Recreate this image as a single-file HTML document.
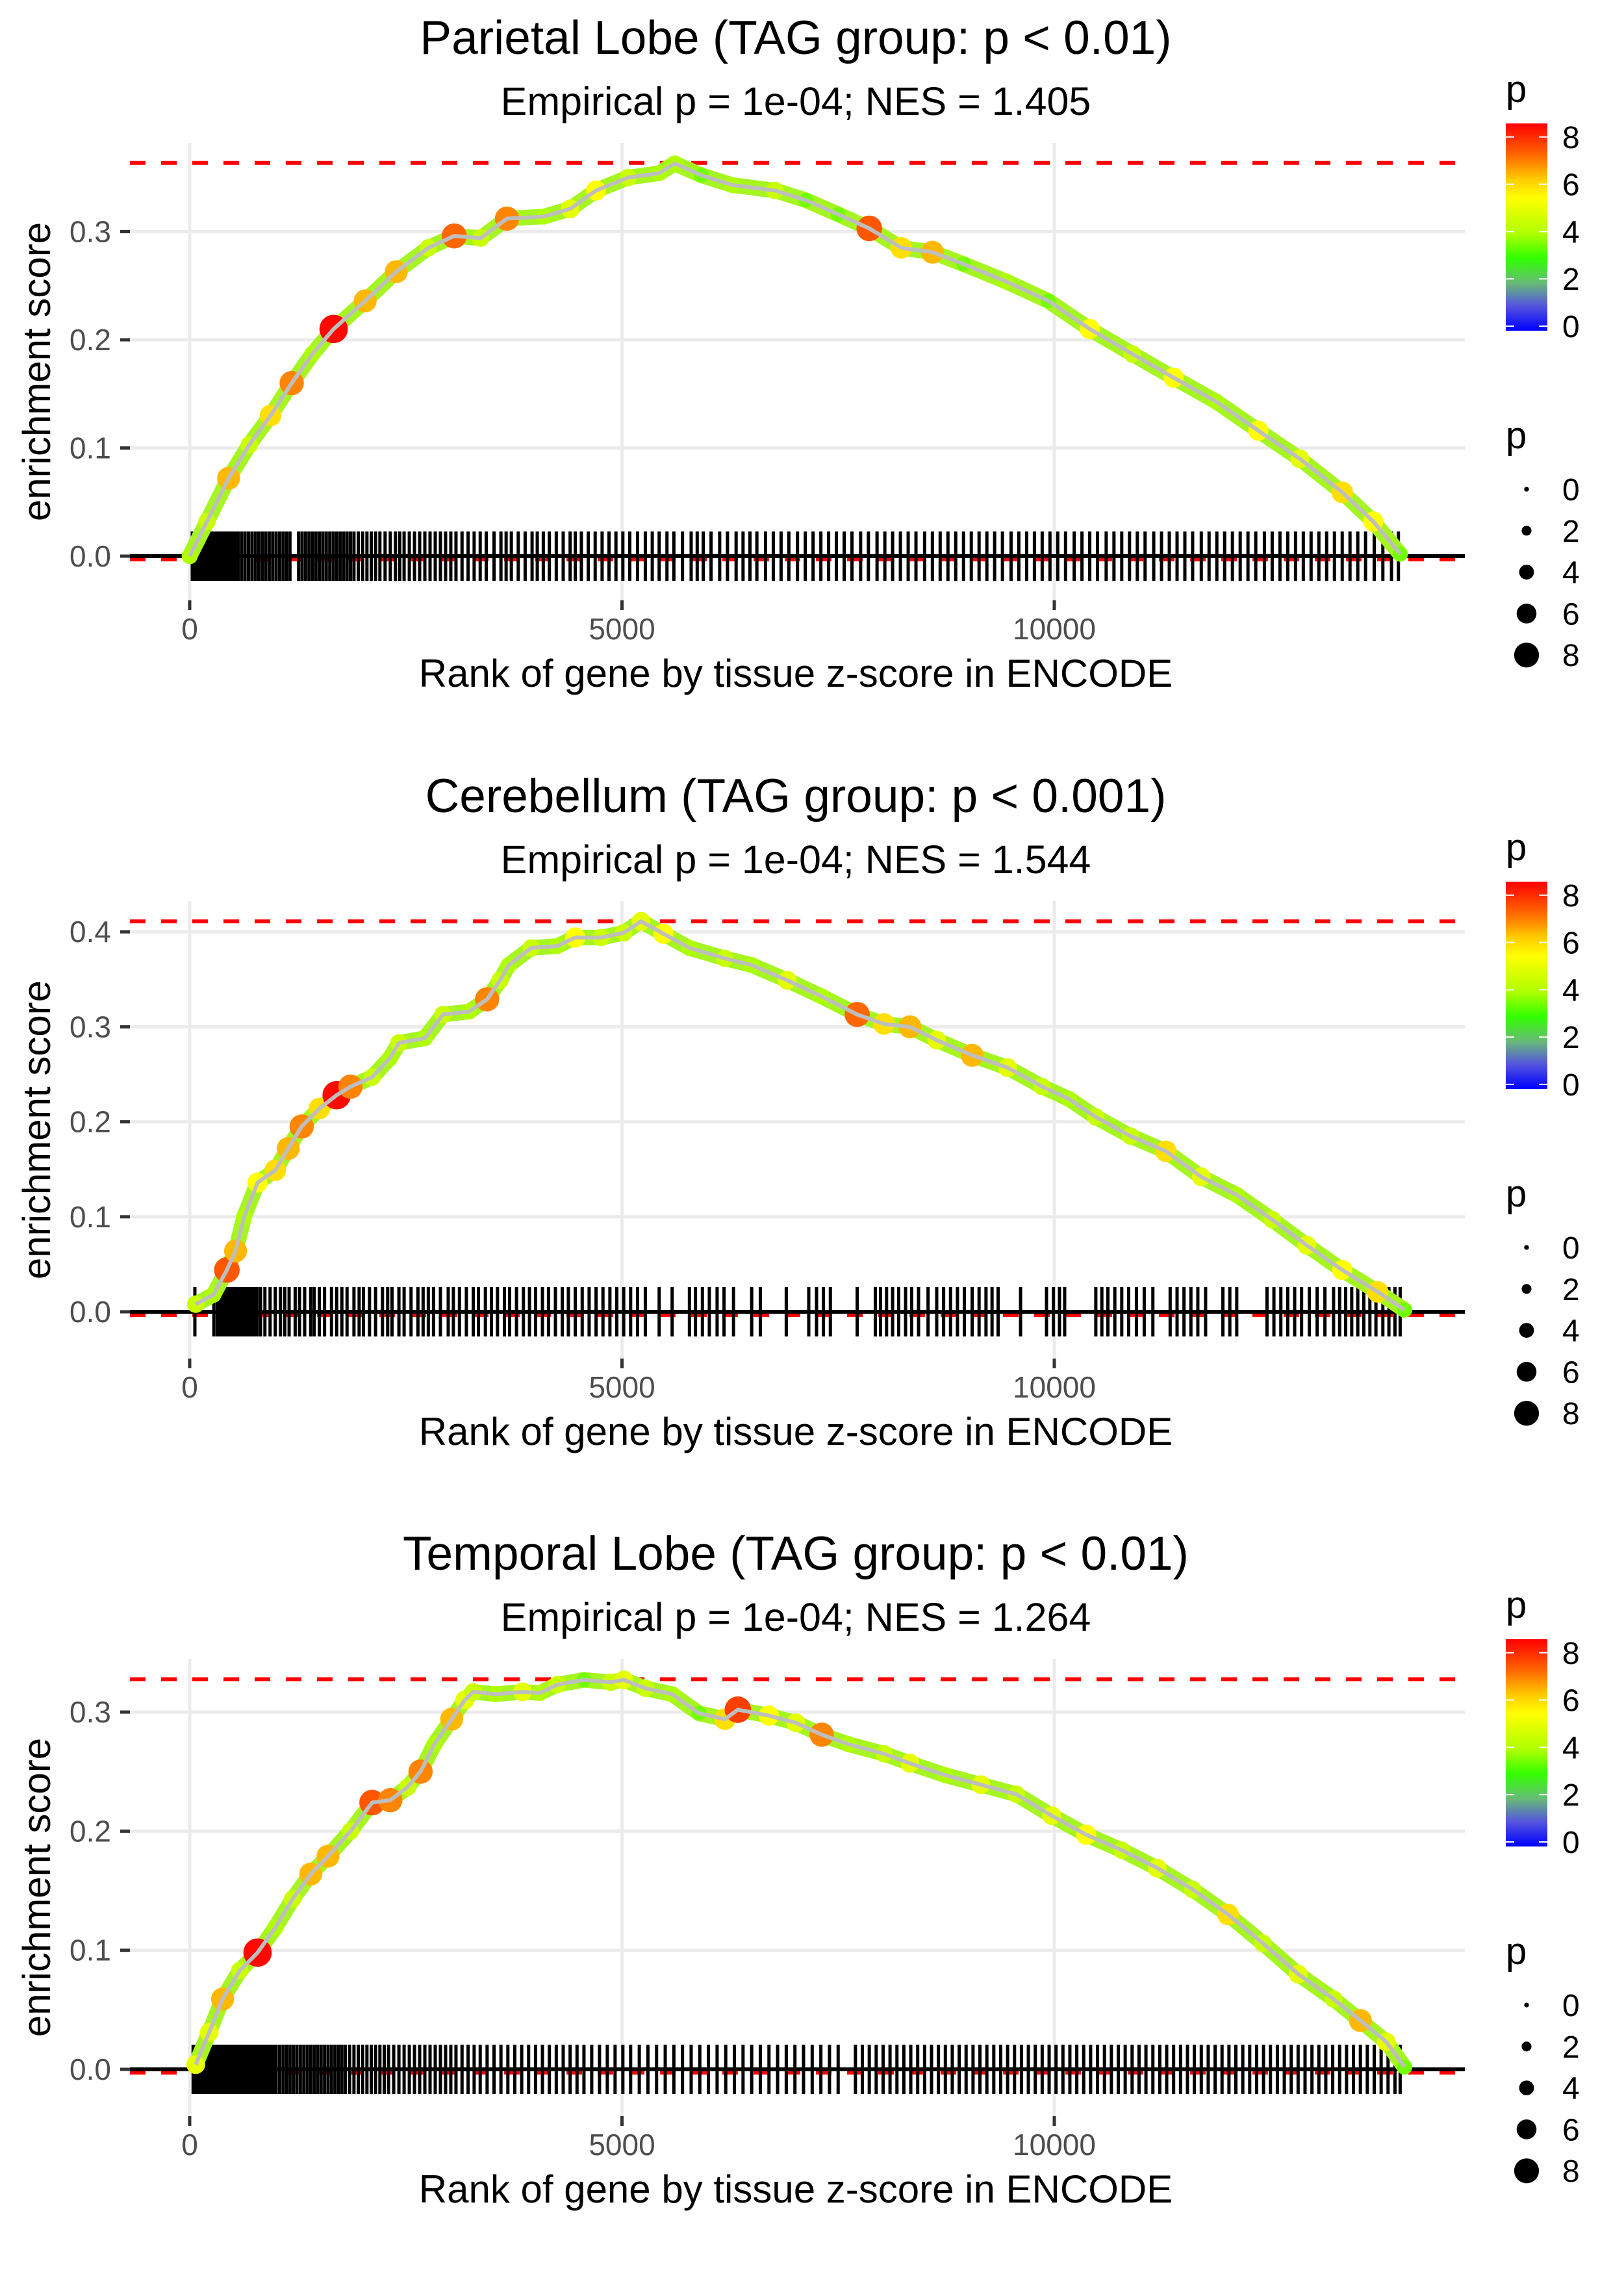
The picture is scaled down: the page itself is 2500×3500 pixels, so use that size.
<!DOCTYPE html>
<html><head><meta charset="utf-8"><style>
html,body{margin:0;padding:0;background:#fff;}
svg{display:block;font-family:"Liberation Sans",sans-serif;}
</style></head><body>
<svg id="chart" width="2500" height="3500" viewBox="0 0 2500 3500" xmlns="http://www.w3.org/2000/svg">
<defs>
<linearGradient id="pgrad" x1="0" y1="1" x2="0" y2="0">
<stop offset="0" stop-color="#0000ff"/><stop offset="0.12" stop-color="#5555dd"/><stop offset="0.23" stop-color="#66bb77"/><stop offset="0.35" stop-color="#33ff00"/><stop offset="0.47" stop-color="#b0ff00"/><stop offset="0.64" stop-color="#ffff00"/><stop offset="0.73" stop-color="#ffcc00"/><stop offset="0.85" stop-color="#ff6600"/><stop offset="1" stop-color="#ff0000"/>
</linearGradient>
</defs>
</svg>
<script>
// ---- data ----
const titles = ["Parietal Lobe (TAG group: p < 0.01)","Cerebellum (TAG group: p < 0.001)","Temporal Lobe (TAG group: p < 0.01)"];
const subtitles = ["Empirical p = 1e-04; NES = 1.405","Empirical p = 1e-04; NES = 1.544","Empirical p = 1e-04; NES = 1.264"];
const maxES = [0.3635, 0.411, 0.3276];
const yTicks1 = [0.0,0.1,0.2,0.3];
const yTicks2 = [0.0,0.1,0.2,0.3,0.4];
const yTicks3 = [0.0,0.1,0.2,0.3];
const xTicks = [0,5000,10000];
const xTickLabels = ["0","5000","10000"];

const rank1 = [0,200,450,690,935,1180,1420,1665,2030,2390,2760,3060,3365,3670,4100,4400,4700,5070,5430,5610,5920,6280,6770,7130,7500,7860,8230,8590,8950,9440,9930,10410,10900,11380,11870,12360,12840,13330,13690,14000];
const es1 =   [0,0.032,0.072,0.103,0.13,0.16,0.187,0.21,0.236,0.263,0.285,0.296,0.294,0.312,0.314,0.321,0.338,0.35,0.354,0.363,0.352,0.343,0.338,0.329,0.316,0.303,0.285,0.281,0.27,0.254,0.236,0.21,0.187,0.165,0.143,0.116,0.09,0.059,0.032,0.002];
const p1 =    [4,4.5,6.5,4.5,6,7,4,8.5,6.5,6.5,4.5,7.3,4.5,7,4,5,5.5,4.5,4,4,3.5,4,4.5,3.5,3.5,7.5,6,6.5,3.5,4,3.5,5.5,4.5,5.5,4,5.5,5,6,5.5,3.5];

const rank2 = [70,275,430,530,630,785,990,1140,1295,1500,1700,1860,2110,2315,2420,2720,2930,3230,3440,3590,3690,3950,4250,4460,4760,5020,5220,5480,5780,6190,6500,6910,7310,7720,8030,8330,8640,9050,9460,9860,10170,10480,10880,11290,11700,12110,12520,12920,13330,13740,14050];
const es2 =   [0.008,0.018,0.044,0.064,0.1,0.136,0.149,0.172,0.195,0.214,0.228,0.237,0.247,0.267,0.283,0.288,0.313,0.316,0.329,0.349,0.365,0.383,0.385,0.394,0.394,0.399,0.411,0.398,0.383,0.372,0.365,0.349,0.332,0.313,0.303,0.3,0.286,0.27,0.257,0.237,0.224,0.205,0.185,0.169,0.142,0.123,0.097,0.07,0.044,0.021,0.002];
const p2 =    [4.5,4,7.5,6.5,4,5.5,6,6.5,7,6,8.5,7,4.5,4,4.5,4,4.5,4,7,4.5,4,4.5,4,5.5,4.5,4.5,5,5.5,4,4.5,4,5,4,7.3,6,6.5,5,6.5,5,4.5,4,4.5,4.5,6,5,4,4.5,5,5.5,6,3.5];

const rank3 = [70,225,380,580,785,990,1190,1400,1600,1860,2110,2320,2520,2670,2830,3030,3180,3280,3540,3850,4050,4250,4560,4870,5020,5270,5580,5890,6190,6340,6700,7010,7310,7620,8030,8330,8740,9150,9560,9970,10370,10780,11190,11600,12010,12410,12820,13230,13540,13840,14050];
const es3 =   [0.004,0.031,0.059,0.083,0.098,0.119,0.143,0.164,0.179,0.2,0.224,0.226,0.237,0.25,0.273,0.294,0.31,0.317,0.315,0.317,0.316,0.323,0.327,0.325,0.327,0.32,0.315,0.299,0.294,0.302,0.297,0.291,0.281,0.273,0.265,0.257,0.247,0.239,0.231,0.213,0.197,0.184,0.169,0.151,0.13,0.106,0.08,0.059,0.041,0.023,0.002];
const p3 =    [5,5,6.5,4.5,8.5,4,4.5,6.5,6.5,4.5,7.5,7,4.5,7,4,6.5,5,4.5,4,5,4,4.5,3.5,4.5,5,4.5,4,3.5,6,7.8,5.5,5,7,4,4.5,5,4,5,4.5,5,5.5,4.5,5,4.5,6,4.5,5,4.5,6.5,5,3.5];

const rug1 = [30,60,90,110,140,170,200,230,260,290,320,350,380,410,440,470,500,530,560,600,640,680,720,760,800,840,880,920,960,1000,1040,1080,1120,1160,1260,1300,1340,1380,1420,1460,1500,1540,1580,1620,1660,1700,1740,1780,1820,1860,1900,1950,2000,2050,2100,2150,2200,2260,2320,2380,2430,2480,2540,2600,2660,2720,2780,2840,2900,2960,3020,3080,3150,3220,3290,3360,3430,3520,3600,3660,3720,3800,3880,3960,4020,4090,4160,4240,4320,4400,4460,4530,4610,4690,4770,4850,4930,5010,5090,5180,5270,5350,5430,5520,5600,5700,5800,5870,5940,6030,6130,6220,6320,6400,6480,6560,6660,6750,6840,6930,7030,7120,7210,7300,7390,7480,7570,7660,7760,7850,7950,8040,8130,8220,8310,8400,8500,8590,8680,8770,8860,8950,9040,9130,9220,9310,9400,9500,9590,9680,9770,9860,9950,10040,10130,10230,10320,10410,10500,10600,10690,10780,10870,10960,11050,11150,11240,11330,11420,11510,11600,11700,11790,11880,11970,12060,12150,12240,12330,12430,12520,12610,12700,12790,12880,12970,13060,13150,13240,13330,13420,13510,13600,13700,13800,13900,13980];
const rug2 = [60,280,320,350,380,400,430,460,480,510,540,570,600,630,660,690,720,750,780,820,870,930,990,1050,1100,1150,1220,1270,1330,1400,1440,1500,1560,1640,1700,1760,1820,1900,1960,2010,2080,2150,2230,2290,2340,2420,2480,2560,2640,2700,2760,2820,2900,2990,3050,3120,3200,3280,3340,3420,3490,3560,3640,3700,3780,3860,3930,4000,4080,4150,4230,4310,4380,4460,4540,4620,4700,4780,4860,4940,5020,5100,5180,5270,5430,5580,5780,5850,5930,6010,6100,6180,6290,6500,6600,6900,7160,7250,7330,7410,7720,7930,7990,8060,8130,8200,8280,8350,8430,8540,8640,8720,8800,8880,8960,9050,9130,9210,9280,9350,9610,9910,9990,10060,10120,10480,10550,10620,10700,10780,10860,10950,11040,11140,11340,11420,11500,11580,11660,11750,11950,12030,12110,12460,12540,12620,12700,12780,12860,12950,13040,13130,13230,13300,13370,13440,13510,13580,13650,13720,13800,13870,13940,14000];
const rug3 = [40,70,100,130,160,190,220,250,280,310,340,370,400,430,460,490,520,550,580,610,640,670,700,730,760,790,820,850,880,910,940,970,1000,1040,1080,1120,1160,1200,1240,1280,1320,1360,1400,1440,1480,1520,1560,1600,1640,1680,1720,1760,1800,1850,1900,1950,2000,2050,2100,2150,2200,2250,2300,2360,2420,2480,2540,2600,2660,2720,2780,2840,2900,2960,3020,3080,3150,3220,3290,3360,3440,3520,3600,3680,3760,3840,3920,4000,4080,4160,4240,4320,4400,4480,4560,4650,4740,4830,4920,5010,5100,5200,5300,5400,5500,5600,5700,5800,5900,6000,6100,6200,6300,6400,6500,6600,6700,6800,6900,7000,7100,7200,7300,7400,7500,7700,7780,7860,7940,8020,8100,8180,8260,8340,8420,8500,8580,8660,8740,8820,8900,8980,9060,9140,9220,9300,9380,9460,9540,9620,9700,9780,9860,9940,10020,10100,10180,10260,10340,10420,10500,10580,10660,10740,10820,10900,10980,11060,11140,11220,11300,11380,11460,11540,11620,11700,11780,11860,11940,12020,12100,12180,12260,12340,12420,12500,12580,12660,12740,12820,12900,12980,13060,13140,13220,13300,13380,13460,13540,13620,13700,13780,13860,13940,14000];

const legendColorTicks = [0,2,4,6,8];
const legendSizeVals = [0,2,4,6,8];

// ---- layout ----
const panelOffsets = [0, 1167, 2333];
const zeroY = [856, 852, 852];
const perTenth = [166.5, 146.2, 183.3];
const rugHalfPx = 38;
const PX0 = 200, PX1 = 2255, PT = 220, PB = 924;
const NS = "http://www.w3.org/2000/svg";
const svg = document.getElementById('chart');

function xs(r){ return 292 + r * 665.5 / 5000; }
function mk(tag, attrs, parent){ const e=document.createElementNS(NS,tag); for(const k in attrs) e.setAttribute(k, attrs[k]); (parent||svg).appendChild(e); return e; }
const stops=[[0,[0,0,255]],[1,[85,85,221]],[2,[102,187,119]],[3,[51,255,0]],[4,[176,255,0]],[5.5,[255,255,0]],[6.3,[255,204,0]],[7.3,[255,102,0]],[8.6,[255,0,0]]];
function pcol(p){ for(let i=1;i<stops.length;i++){ if(p<=stops[i][0]){ const a=stops[i-1],b=stops[i],t=(p-a[0])/(b[0]-a[0]); const c=a[1].map((v,j)=>Math.round(v+(b[1][j]-v)*t)); return `rgb(${c})`; } } return 'rgb(255,0,0)'; }
function prad(p){ return 4 + 2.1 * p; }

const allRanks=[rank1,rank2,rank3], allES=[es1,es2,es3], allP=[p1,p2,p3], allRugs=[rug1,rug2,rug3], allYT=[yTicks1,yTicks2,yTicks3];

for(let k=0;k<3;k++){
  const oy = panelOffsets[k];
  const ys = v => oy + zeroY[k] - v * perTenth[k] * 10;
  const g = mk('g', {});
  
  
  const t = mk('text', {x:1225, y:oy+83, 'text-anchor':'middle', 'font-size':73, fill:'#000'}, g);
  t.textContent = titles[k];
  
  
  const st = mk('text', {x:1225, y:oy+177, 'text-anchor':'middle', 'font-size':61, fill:'#000'}, g);
  st.textContent = subtitles[k];
  
  
  allYT[k].forEach(v=>{
    const l = mk('line',{x1:PX0,x2:PX1,y1:ys(v),y2:ys(v),stroke:'#ebebeb','stroke-width':5},g);
    
    
    const tm = mk('line',{x1:185,x2:200,y1:ys(v),y2:ys(v),stroke:'#333','stroke-width':5},g);
    
    
    const tl = mk('text',{x:171,y:ys(v)+16,'text-anchor':'end','font-size':46,fill:'#4d4d4d'},g);
    tl.textContent = v.toFixed(1);
    
    
  });
  xTicks.forEach((r,i)=>{
    const l = mk('line',{x1:xs(r),x2:xs(r),y1:oy+PT,y2:oy+PB,stroke:'#ebebeb','stroke-width':5},g);
    
    
    const tm = mk('line',{x1:xs(r),x2:xs(r),y1:oy+PB,y2:oy+PB+15,stroke:'#333','stroke-width':5},g);
    
    
    const tl = mk('text',{x:xs(r),y:oy+984,'text-anchor':'middle','font-size':46,fill:'#4d4d4d'},g);
    tl.textContent = xTickLabels[i];
    
    
  });
  const dm = mk('line',{x1:PX0,x2:PX1,y1:ys(maxES[k]),y2:ys(maxES[k]),stroke:'#ff0000','stroke-width':6,'stroke-dasharray':'24,24'},g);
  
  
  const dz = mk('line',{x1:PX0,x2:PX1,y1:ys(0)+5,y2:ys(0)+5,stroke:'#ff0000','stroke-width':6,'stroke-dasharray':'24,24'},g);
  
  
  allRugs[k].forEach(r=>{
    const l = mk('line',{x1:xs(r),x2:xs(r),y1:ys(0)-rugHalfPx,y2:ys(0)+rugHalfPx,stroke:'#000','stroke-width':5},g);
    
    
  });
  const zl = mk('line',{x1:PX0,x2:PX1,y1:ys(0),y2:ys(0),stroke:'#000','stroke-width':6},g);
  
  
  const R=allRanks[k], E=allES[k], P=allP[k];
  const pts = R.map((r,i)=>xs(r)+','+ys(E[i])).join(' ');
  const band = mk('polyline',{points:pts,fill:'none',stroke:'#a6f520','stroke-width':24,'stroke-linejoin':'round','stroke-linecap':'round'},g);
  
  
  R.forEach((r,i)=>{
    const c = mk('circle',{cx:xs(r),cy:ys(E[i]),r:prad(P[i]),fill:pcol(P[i])},g);
    
    
  });
  const line = mk('polyline',{points:pts,fill:'none',stroke:'#bebebe','stroke-width':6,'stroke-linejoin':'round'},g);
  
  
  const xt = mk('text',{x:1225,y:oy+1057,'text-anchor':'middle','font-size':60,fill:'#000'},g);
  xt.textContent = 'Rank of gene by tissue z-score in ENCODE';
  
  
  const yt = mk('text',{x:0,y:0,'text-anchor':'middle','font-size':60,fill:'#000',transform:`translate(77,${oy+572}) rotate(-90)`},g);
  yt.textContent = 'enrichment score';
  
  
  const lt = mk('text',{x:2318,y:oy+157,'font-size':58,fill:'#000'},g);
  lt.textContent = 'p';
  
  
  const cb = mk('rect',{x:2318,y:oy+190,width:64,height:319,fill:'url(#pgrad)'},g);
  
  
  legendColorTicks.forEach(v=>{
    const yy = oy + 502 - v*36.4;
    mk('line',{x1:2318,x2:2331,y1:yy,y2:yy,stroke:'#fff','stroke-width':2},g);
    mk('line',{x1:2369,x2:2382,y1:yy,y2:yy,stroke:'#fff','stroke-width':2},g);
    const tl = mk('text',{x:2405,y:yy+17,'font-size':48,fill:'#000'},g);
    tl.textContent = String(v);
    
    
  });
  const st2 = mk('text',{x:2318,y:oy+690,'font-size':58,fill:'#000'},g);
  st2.textContent = 'p';
  
  
  legendSizeVals.forEach((v,i)=>{
    const yy = oy + 753 + i*63.8;
    const c = mk('circle',{cx:2350,cy:yy,r:prad(v)*0.92,fill:'#000'},g);
    
    
    const tl = mk('text',{x:2405,y:yy+17,'font-size':48,fill:'#000'},g);
    tl.textContent = String(v);
    
    
  });
}
</script>
</body></html>
